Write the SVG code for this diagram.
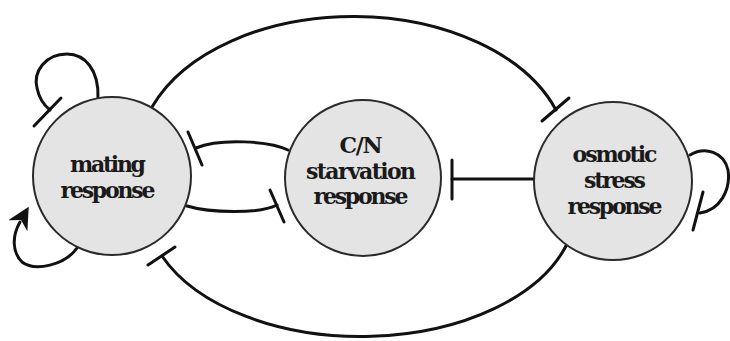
<svg xmlns="http://www.w3.org/2000/svg" width="730" height="341" viewBox="0 0 730 341">
<defs>
<style>
.node{fill:#e4e4e4;stroke:#2a2a2a;stroke-width:2}
.lbl{font-family:"DejaVu Serif","Liberation Serif",serif;font-weight:bold;font-size:22px;fill:#1a1a1a;text-anchor:middle}
.edge{fill:none;stroke:#111;stroke-width:3;stroke-linecap:round}
.bar{fill:none;stroke:#111;stroke-width:3;stroke-linecap:round}
</style>
<marker id="arrow" viewBox="0 0 10 10" refX="2" refY="5" markerWidth="22" markerHeight="22" markerUnits="userSpaceOnUse" orient="auto">
<path d="M0,0 L10,5 L0,10 L3,5 Z" fill="#111"/>
</marker>
</defs>
<rect width="730" height="341" fill="#fff"/>
<g id="connectors">
<path class="edge" d="M152,107 A215,140 0 0 1 556,110"/>
<line class="bar" x1="542" y1="121" x2="569" y2="98"/>
<path class="edge" d="M567,244 A215,129.5 0 0 1 162,256"/>
<line class="bar" x1="148" y1="265" x2="175" y2="247"/>
<path class="edge" d="M288,150 C270,141 220,138 196,148"/>
<line class="bar" x1="188" y1="132" x2="202" y2="165"/>
<path class="edge" d="M187,206 C210,213 260,214 277,205"/>
<line class="bar" x1="270" y1="190" x2="284" y2="222"/>
<path class="edge" d="M534,179 L452,179"/>
<line class="bar" x1="452" y1="160" x2="452" y2="199"/>
<path class="edge" d="M98,98 C99,70 85,54 67,54 C45,54 33,72 37,88 C39,98 45,106 50,110"/>
<line class="bar" x1="34" y1="126" x2="61" y2="98"/>
<path class="edge" d="M77,248 C65,265 35,272 22,262 C12,252 12,236 20,222" marker-end="url(#arrow)"/>
<path class="edge" d="M690,155 C705,146 724,152 728,170 C731,190 720,210 700,213"/>
<line class="bar" x1="693" y1="230" x2="703" y2="192"/>
</g>
<g id="mating">
<circle class="node" cx="112" cy="176" r="79"/>
<text class="lbl" x="108" y="172" textLength="76">mating</text>
<text class="lbl" x="108" y="198" textLength="95">response</text>
</g>
<g id="cn">
<circle class="node" cx="363" cy="178" r="78"/>
<text class="lbl" x="361" y="153" textLength="43">C/N</text>
<text class="lbl" x="361" y="179" textLength="110">starvation</text>
<text class="lbl" x="361" y="204" textLength="95">response</text>
</g>
<g id="osmotic">
<circle class="node" cx="613" cy="181" r="79"/>
<text class="lbl" x="615" y="162" textLength="85">osmotic</text>
<text class="lbl" x="615" y="188" textLength="62">stress</text>
<text class="lbl" x="615" y="214" textLength="95">response</text>
</g>
</svg>
